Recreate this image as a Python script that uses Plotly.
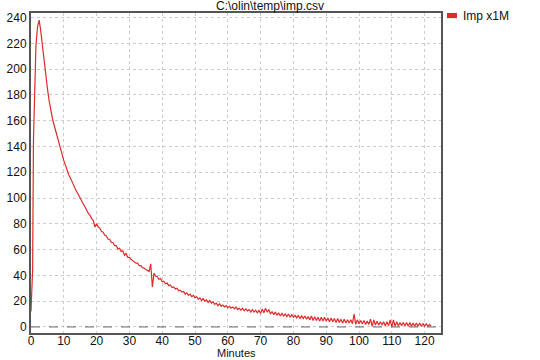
import plotly.graph_objects as go

title_text = "C:\\olin\\temp\\imp.csv"
series_name = "Imp x1M"
x_label = "Minutes"

minutes = [
    0, 0.25, 0.5, 0.75, 1.0, 1.25, 1.5, 2.0, 2.5, 3.0, 3.5, 4.0, 4.5, 5.0, 5.5, 6.0, 6.5, 7.0, 7.5, 8.0,
    8.5, 9.0, 9.5, 10.0, 10.5, 11.0, 11.5, 12.0, 12.5, 13.0, 13.5, 14.0, 14.5, 15.0, 15.5, 16.0, 16.5,
    17.0, 17.5, 18.0, 18.5, 19.0, 19.5, 20.0, 20.5, 21.0, 21.5, 22.0, 22.5, 23.0, 23.5, 24.0, 24.5,
    25.0, 25.5, 26.0, 26.5, 27.0, 27.5, 28.0, 28.5, 29.0, 29.5, 30.0, 30.5, 31.0, 31.5, 32.0, 32.5,
    33.0, 33.5, 34.0, 34.5, 35.0, 35.5, 36.0, 36.5, 37.0, 37.5, 38.0, 38.5, 39.0, 39.5, 40.0, 40.5,
    41.0, 41.5, 42.0, 42.5, 43.0, 43.5, 44.0, 44.5, 45.0, 45.5, 46.0, 46.5, 47.0, 47.5, 48.0, 48.5,
    49.0, 49.5, 50.0, 50.5, 51.0, 51.5, 52.0, 52.5, 53.0, 53.5, 54.0, 54.5, 55.0, 55.5, 56.0, 56.5,
    57.0, 57.5, 58.0, 58.5, 59.0, 59.5, 60.0, 60.5, 61.0, 61.5, 62.0, 62.5, 63.0, 63.5, 64.0, 64.5,
    65.0, 65.5, 66.0, 66.5, 67.0, 67.5, 68.0, 68.5, 69.0, 69.5, 70.0, 70.5, 71.0, 71.5, 72.0, 72.5,
    73.0, 73.5, 74.0, 74.5, 75.0, 75.5, 76.0, 76.5, 77.0, 77.5, 78.0, 78.5, 79.0, 79.5, 80.0, 80.5,
    81.0, 81.5, 82.0, 82.5, 83.0, 83.5, 84.0, 84.5, 85.0, 85.5, 86.0, 86.5, 87.0, 87.5, 88.0, 88.5,
    89.0, 89.5, 90.0, 90.5, 91.0, 91.5, 92.0, 92.5, 93.0, 93.5, 94.0, 94.5, 95.0, 95.5, 96.0, 96.5,
    97.0, 97.5, 98.0, 98.5, 99.0, 99.5, 100.0, 100.5, 101.0, 101.5, 102.0, 102.5, 103.0, 103.5, 104.0,
    104.5, 105.0, 105.5, 106.0, 106.5, 107.0, 107.5, 108.0, 108.5, 109.0, 109.5, 110.0, 110.5, 111.0,
    111.5, 112.0, 112.5, 113.0, 113.5, 114.0, 114.5, 115.0, 115.5, 116.0, 116.5, 117.0, 117.5, 118.0,
    118.5, 119.0, 119.5, 120.0, 120.5, 121.0, 121.5, 122.0,
]

imp = [
    12, 30, 45, 145, 172, 203, 218, 233, 238, 229, 217, 205, 195, 185, 176, 168, 162, 157, 152, 147,
    142.5, 138, 133.5, 129, 125.5, 121.5, 118, 115.5, 112, 110, 107, 105, 102, 100, 97.5, 95.5, 92.5,
    90.5, 88, 86.5, 84, 82.5, 77.5, 80, 77.5, 76.5, 74, 73.5, 71, 70.5, 68, 68, 65.5,
    65.5, 63, 63, 60.5, 61, 58.5, 59, 55.5, 57, 54, 54, 52.5, 51.5, 51, 49.5, 49.5,
    47.5, 47.5, 46, 45.5, 44.5, 44, 43, 49, 31, 41.5, 39.5, 39, 37, 37.5, 35, 35.5,
    33.5, 34, 32, 32.5, 30.5, 31, 29.5, 30, 28, 28.5, 27, 27.5, 25.5, 26.5, 24.5, 25.5,
    23.5, 24.5, 22.5, 23.5, 21.5, 22.5, 20.5, 22, 20, 21, 19, 20.5, 18.5, 19.5, 17.5, 18.5,
    16.5, 18, 16, 17, 15.5, 16.5, 15, 16, 14.5, 15.5, 14, 15.5, 13.5, 14.5, 13, 14.5,
    12.5, 14, 12.5, 13.5, 11.5, 13.5, 11.5, 13, 11, 13, 10.5, 14, 11, 14.5, 11.5, 13.5,
    10, 12, 9.5, 11.5, 9, 11, 8.5, 10.5, 8.5, 10, 8, 10, 7.5, 9.5, 7.5, 9,
    7, 9, 6.5, 8.5, 6.5, 8.5, 6, 8, 5.5, 8.5, 5, 8, 5, 7.5, 4.5, 7.5,
    4.5, 7.5, 4.5, 7, 4, 7, 4, 6.5, 3.5, 6.5, 3.5, 6, 3, 6, 3, 5.5,
    3, 5.5, 2.5, 10, 2, 5.5, 2.5, 5, 2.5, 5, 2, 4.5, 2, 6, 0.5,
    5.5, 1.5, 4.5, 1.5, 4, 1.5, 4, 1, 4, 1, 5.5, 0, 5.5, 0.5,
    4, 1, 3.5, 1, 3.5, 1, 3.5, 0.5, 3.5, 0.5, 3, 0.5, 3, 0.5,
    3, 0.5, 2.5, 0.5, 2.5, 0.5, 2, 0.5,
]

x_ticks = list(range(0, 121, 10))
y_ticks = list(range(0, 241, 20))

line_color = "#e02a2a"
font_family = "Liberation Sans, Arial, sans-serif"
text_color = "#111111"

fig = go.Figure()
fig.add_trace(go.Scatter(
    x=minutes, y=imp, mode="lines", name=series_name,
    line=dict(color=line_color, width=1.2),
    showlegend=False, hoverinfo="skip",
))

axis_common = dict(
    showline=True, linecolor="#555555", linewidth=2, mirror=True,
    showgrid=True, gridcolor="#cccccc", griddash="dot", gridwidth=1,
    zeroline=False, ticks="", tickfont=dict(family=font_family, size=12, color=text_color),
)

fig.update_xaxes(range=[0, 125], tickvals=x_ticks, ticklabelstandoff=-4, **axis_common)
fig.update_yaxes(range=[-4.7, 243.5], tickvals=y_ticks, **axis_common)

# dashed zero reference line
fig.add_shape(type="line", xref="paper", yref="y", x0=0, x1=1, y0=0, y1=0,
              line=dict(color="#666666", width=1, dash="dash"))

# legend swatch + label (drawn manually to match the compact original legend)
fig.add_shape(type="rect", xref="paper", yref="paper",
              x0=1.0146, x1=1.039, y0=0.984, y1=1.0,
              line=dict(width=0), fillcolor=line_color)
fig.add_annotation(text=series_name, xref="paper", yref="paper", x=1.0488, y=0.9906,
                   xanchor="left", yanchor="middle", showarrow=False,
                   font=dict(family=font_family, size=12, color=text_color))

fig.add_annotation(text=x_label, xref="paper", yref="paper", x=0.5, y=-0.064,
                   xanchor="center", yanchor="middle", showarrow=False,
                   font=dict(family=font_family, size=11, color=text_color))

fig.update_layout(
    width=540, height=360,
    margin=dict(l=31, r=99, t=13, b=27, autoexpand=False),
    paper_bgcolor="white", plot_bgcolor="white",
    title=dict(text=title_text, x=0.5, xref="container", y=1 - 6 / 360, yref="container",
               xanchor="center", yanchor="middle",
               font=dict(family=font_family, size=12, color=text_color)),
    showlegend=False,
    font=dict(family=font_family),
)

fig.write_html("out.html", config={"displayModeBar": False},
               post_script="document.body.style.margin='0';")
